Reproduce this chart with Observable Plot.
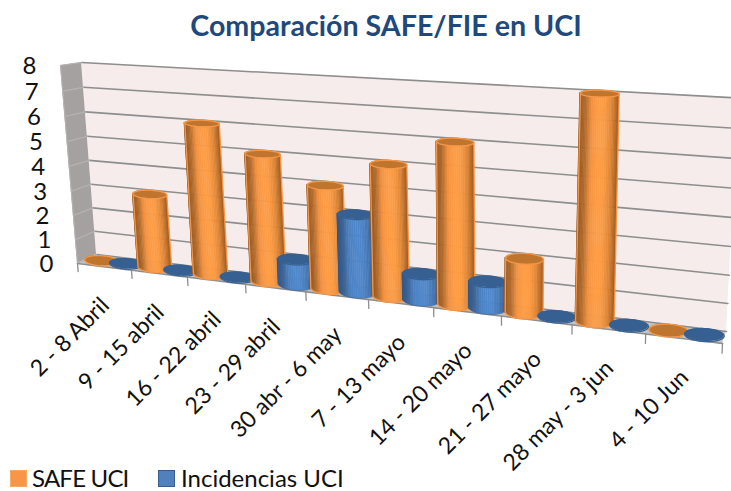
<!DOCTYPE html>
<html lang="es"><head><meta charset="utf-8">
<script src="https://cdn.jsdelivr.net/npm/d3@7"></script>
<script src="https://cdn.jsdelivr.net/npm/@observablehq/plot@0.6"></script>
<style>
html,body{margin:0;padding:0;background:#fff;width:731px;height:491px;overflow:hidden;font-family:Lato,sans-serif}
#title{height:52px;line-height:50px;text-align:center;padding-left:41px;font-size:28.6px;font-weight:700;color:#1F497D;box-sizing:border-box}
#chart svg{display:block;overflow:visible}
#legend{position:absolute;top:463px;left:0;height:28px;width:731px;font-size:24px;color:#111}
#legend span{position:absolute;top:0;line-height:30px;white-space:nowrap}
#legend i{position:absolute;top:7px;width:17px;height:17px;box-sizing:border-box}
</style></head><body>
<div id="title">Comparación SAFE/FIE en UCI</div>
<div id="chart"></div>
<div id="legend">
<i style="left:10px;background:#F79646;border:1px solid #F9A964"></i><span style="left:32px;letter-spacing:-0.8px">SAFE UCI</span>
<i style="left:158px;background:#4F81BD;border:1.5px solid #385D8A"></i><span style="left:181px">Incidencias UCI</span>
</div>
<script>
const categories = ["2 - 8 Abril","9 - 15 abril","16 - 22 abril","23 - 29 abril","30 abr - 6 may","7 - 13 mayo","14 - 20 mayo","21 - 27 mayo","28 may - 3 jun","4 - 10 Jun"];
const safeUci = [0,3,6,5,4,5,6,2,8,0];
const incidenciasUci = [0,0,0,1,3,1,1,0,0,0];
const valueTicks = [0,1,2,3,4,5,6,7,8];

// perspective frame of the 3D box (page pixels)
const TOP = 52, H = 411, W = 731, NU = categories.length, NV = 8;
const backQ  = [[96,254],[726,331],[738,97.5],[81,62]];
const frontQ = [[77,263],[722,343],[733,104],[60,65]];
const midQ = backQ.map((p,i)=>[(p[0]+frontQ[i][0])/2,(p[1]+frontQ[i][1])/2]);
function homography(q){
  const [[x0,y0],[x1,y1],[x2,y2],[x3,y3]] = q;
  const sx=x0-x1+x2-x3, sy=y0-y1+y2-y3, dx1=x1-x2, dx2=x3-x2, dy1=y1-y2, dy2=y3-y2;
  const den=dx1*dy2-dx2*dy1, g=(sx*dy2-dx2*sy)/den, h=(dx1*sy-sx*dy1)/den;
  const a=x1-x0+g*x1, b=x3-x0+h*x3, d=y1-y0+g*y1, e=y3-y0+h*y3;
  return (u,v)=>{const s=u/NU,t=v/NV,w=g*s+h*t+1;return [(a*s+b*t+x0)/w,(d*s+e*t+y0)/w];};
}
const back=homography(backQ), front=homography(frontQ), mid=homography(midQ);

const lineStyle={stroke:"#8E8E8E",strokeWidth:1.6};
const seg=(a,b,extra)=>Plot.line([a,b],{x:d=>d[0],y:d=>d[1],...lineStyle,...extra});
const panel=(a,b,c,d,fill)=>Plot.area([{p:a,q:d},{p:b,q:c}],{x1:r=>r.p[0],y1:r=>r.p[1],x2:r=>r.q[0],y2:r=>r.q[1],fill});

const series=[
 {values:safeUci,off:0.27,body:["#A55F22","#E08838","#FB9B44","#FF9E47","#F59442","#B06A2C","#96561E"],top:"#C0752F",edge:"#F79646"},
 {values:incidenciasUci,off:0.74,body:["#335C90","#4678B4","#5088CC","#5088CC","#4C82C2","#3A659B","#2F5687"],top:"#376092",edge:"#376092"}
];
const bars=[];
categories.forEach((c,i)=>series.forEach(s=>bars.push({u:i+s.off,v:s.values[i],s})));

function cylinder(b){
  const rx=16.5+0.35*b.u;
  const ellipse=(v)=>{
    const c=mid(b.u,v), l=mid(b.u-0.2,v), r=mid(b.u+0.2,v);
    const len=Math.hypot(r[0]-l[0],r[1]-l[1]), ex=(r[0]-l[0])/len, ey=(r[1]-l[1])/len*0.4;
    const ry=Math.abs(front(b.u,v)[1]-back(b.u,v)[1])/2*0.95+0.8;
    return th=>[c[0]+Math.cos(th)*rx*ex, c[1]+Math.cos(th)*rx*ey+Math.sin(th)*ry];
  };
  const eb=ellipse(0), et=ellipse(b.v), out=[];
  const color=d3.scaleLinear().domain(d3.range(7).map(k=>k/6)).range(b.s.body);
  if(b.v>0){
    const N=30, rows=[];
    for(let k=0;k<N;k++){
      const th0=Math.PI*(1-k/N), th1=Math.PI*(1-(k+1)/N);
      const f=(1-Math.cos((th0+th1)/2))/2, col=color(f);
      for(const th of [th0,th1]){const p=eb(th),q=et(th);rows.push({k,col,x1:p[0],y1:p[1],x2:q[0],y2:q[1]});}
    }
    out.push(Plot.area(rows,{x1:"x1",y1:"y1",x2:"x2",y2:"y2",z:"k",fill:"col",stroke:"col",strokeWidth:0.6}));
    const outline=[et(Math.PI),...d3.range(0,25).map(j=>eb(Math.PI-j*Math.PI/24)),et(0)];
    out.push(Plot.line(outline,{x:d=>d[0],y:d=>d[1],stroke:b.s.edge,strokeWidth:1.3,strokeOpacity:b.s.edge==="#F79646"?1:0.5}));
  }
  const half=d3.range(0,Math.PI+.01,Math.PI/24).map(th=>({p:et(th),q:et(-th)}));
  out.push(Plot.area(half,{x1:r=>r.p[0],y1:r=>r.p[1],x2:r=>r.q[0],y2:r=>r.q[1],fill:b.s.top}));
  const ring=d3.range(0,2*Math.PI+.01,Math.PI/24).map(et);
  out.push(Plot.line(ring,{x:d=>d[0],y:d=>d[1],stroke:b.s.edge,strokeWidth:1.3}));
  return out;
}

const catLabels=categories.map((c,i)=>{const p=front(i+0.5,0);return {c,x:p[0]+1,y:p[1]+35};});

const plot=Plot.plot({
  width:W,height:H,margin:0,
  x:{domain:[0,W],range:[0,W],axis:null},
  y:{domain:[TOP,TOP+H],range:[0,H],axis:null},
  marks:[
    panel(back(0,0),back(NU,0),back(NU,NV),back(0,NV),"#F6ECEC"),
    panel(front(0,0),back(0,0),back(0,NV),front(0,NV),"#A6A1A1"),
    panel(front(0,0),front(NU,0),back(NU,0),back(0,0),"#C4C2C2"),
    ...valueTicks.map(v=>seg(back(0,v),back(NU,v))),
    ...valueTicks.map(v=>seg(front(0,v),back(0,v),{stroke:"#B5B3B3",strokeWidth:1.2})),
    seg(front(0,0),front(0,NV),{stroke:"#B5B3B3",strokeWidth:1}),
    seg(front(0,0),front(NU,0),{strokeDasharray:"1.5 0.7"}),
    ...d3.range(NU+1).map(i=>seg(front(i,0),front(i,-0.34),{strokeWidth:1.3})),
    ...bars.flatMap(cylinder),
    Plot.text(valueTicks,{x:v=>front(0,v)[0]-24,y:v=>front(0,v)[1]+1,text:d=>String(d),textAnchor:"end",fontSize:24,fill:"#111",fontFamily:"Lato"}),
    Plot.text(catLabels,{x:"x",y:"y",text:"c",rotate:-45,textAnchor:"end",fontSize:23,fill:"#111",fontFamily:"Lato"})
  ]
});
document.getElementById("chart").append(plot);
</script>
</body></html>
